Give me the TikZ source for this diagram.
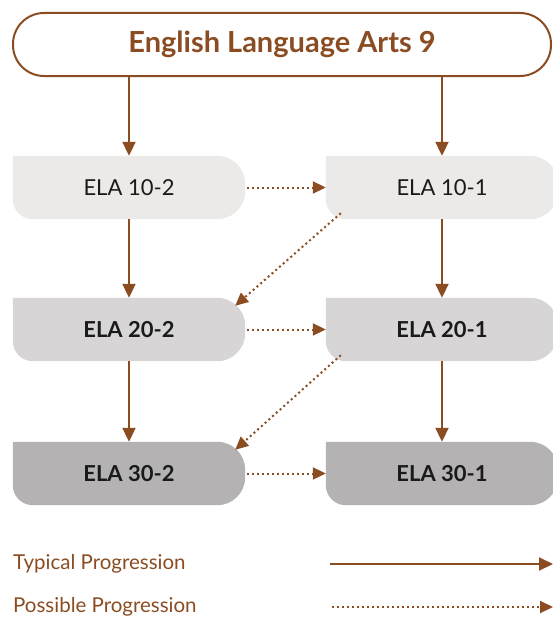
\documentclass[tikz,border=0pt]{standalone}
\usepackage{fontspec}
\setmainfont{Lato}
\usepackage{xcolor}
\usepackage{tikz}
\usetikzlibrary{arrows.meta, positioning, backgrounds}
\definecolor{elabrown}{HTML}{8B4C22}
\definecolor{rowone}{HTML}{ECEAE8}
\definecolor{rowtwo}{HTML}{D7D5D5}
\definecolor{rowthree}{HTML}{B4B2B2}
\definecolor{textdark}{HTML}{1A1A1A}

% fill behind a course box: sharp top left, round on the other corners
\newcommand{\coursefill}[2]{%
  \fill[#2] (#1.north west) -- ([xshift=-28pt]#1.north east)
    arc[start angle=90, end angle=0, radius=28pt]
    -- ([yshift=28pt]#1.south east)
    arc[start angle=0, end angle=-90, radius=28pt]
    -- ([xshift=20pt]#1.south west)
    arc[start angle=270, end angle=180, radius=20pt] -- cycle;}

\begin{document}
\begin{tikzpicture}[x=1pt, y=1pt,
    course/.style={minimum width=232pt, minimum height=63pt, inner sep=0pt, text=textdark, font=\fontsize{22}{26}\selectfont},
    typical/.style={-{Triangle[length=14pt, width=13pt]}, elabrown, line width=2pt},
    possible/.style={-{Triangle[length=13pt, width=12pt]}, elabrown, line width=2pt, dash pattern=on 2pt off 3pt}]
    \useasboundingbox (0,0) rectangle (553,-618);

    \node[draw=elabrown, line width=2pt, rounded corners=31pt, minimum width=538pt, minimum height=63pt, text=elabrown, font=\fontsize{29}{33}\selectfont\bfseries] (ela9) at (282,-44.5) {English Language Arts 9};

    \node[course] (ela102) at (129,-187.5) {ELA 10-2};
    \node[course] (ela101) at (442,-187.5) {ELA 10-1};
    \node[course, font=\fontsize{22}{26}\selectfont\bfseries] (ela202) at (129,-329.5) {ELA 20-2};
    \node[course, font=\fontsize{22}{26}\selectfont\bfseries] (ela201) at (442,-329.5) {ELA 20-1};
    \node[course, font=\fontsize{22}{26}\selectfont\bfseries] (ela302) at (129,-473.5) {ELA 30-2};
    \node[course, font=\fontsize{22}{26}\selectfont\bfseries] (ela301) at (442,-473.5) {ELA 30-1};

    \begin{scope}[on background layer]
        \coursefill{ela102}{rowone}
        \coursefill{ela101}{rowone}
        \coursefill{ela202}{rowtwo}
        \coursefill{ela201}{rowtwo}
        \coursefill{ela302}{rowthree}
        \coursefill{ela301}{rowthree}
    \end{scope}

    \draw[typical] (ela9.south -| ela102.north) -- (ela102.north);
    \draw[typical] (ela9.south -| ela101.north) -- (ela101.north);
    \draw[typical] (ela102) -- (ela202);
    \draw[typical] (ela101) -- (ela201);
    \draw[typical] (ela202) -- (ela302);
    \draw[typical] (ela201) -- (ela301);

    \draw[possible] ([xshift=2pt]ela102.east) -- (ela101.west);
    \draw[possible] ([xshift=2pt]ela202.east) -- (ela201.west);
    \draw[possible] ([xshift=2pt]ela302.east) -- (ela301.west);
    \draw[possible] ([xshift=15pt, yshift=6pt]ela101.south west) -- ([xshift=-10pt, yshift=-8pt]ela202.north east);
    \draw[possible] ([xshift=15pt, yshift=6pt]ela201.south west) -- ([xshift=-10pt, yshift=-8pt]ela302.north east);

    % legend
    \node[anchor=west, inner sep=0pt, text=elabrown, font=\fontsize{20.5}{24}\selectfont] (typtext) at (13,-564) {Typical Progression};
    \node[anchor=west, inner sep=0pt, text=elabrown, font=\fontsize{20.5}{24}\selectfont] (postext) at (13,-607) {Possible Progression};
    \coordinate (typstart) at (330,-564);
    \coordinate (typend) at (553,-564);
    \coordinate (posstart) at (332,-607);
    \coordinate (posend) at (553,-607);
    \draw[typical] (typstart) -- (typend);
    \draw[possible] (posstart) -- (posend);
\end{tikzpicture}
\end{document}
